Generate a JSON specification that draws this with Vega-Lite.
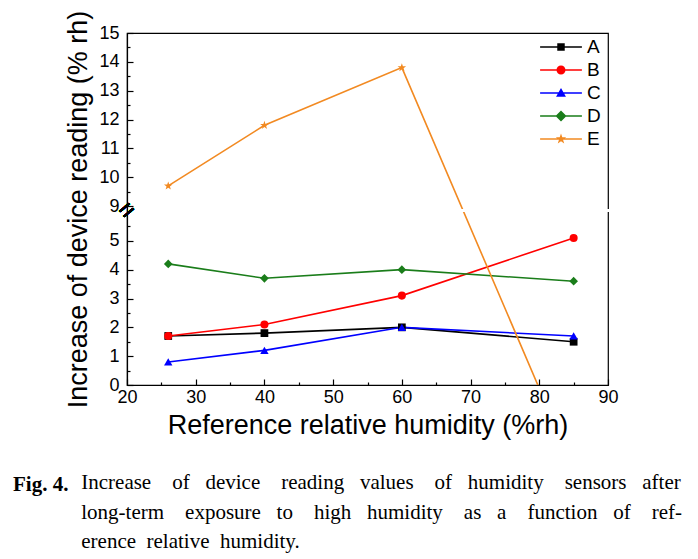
{
  "$schema": "https://vega.github.io/schema/vega-lite/v6.json",
  "autosize": "none",
  "width": 481,
  "height": 352,
  "padding": {"left": 127, "top": 33, "right": 90, "bottom": 174},
  "background": "white",
  "config": {
    "view": {"stroke": "black", "strokeWidth": 1.2},
    "font": "Liberation Sans"
  },
  "title": {
    "text": "Fig. 4.",
    "subtitle": [
      "\u200b\u00a0\u00a0\u00a0\u00a0\u00a0\u00a0\u00a0\u00a0\u00a0\u00a0\u00a0\u00a0\u00a0Increase\u00a0\u00a0\u00a0 of\u00a0\u00a0 device\u00a0\u00a0\u00a0 reading\u00a0\u00a0 values\u00a0\u00a0\u00a0 of\u00a0\u00a0 humidity\u00a0\u00a0\u00a0 sensors\u00a0\u00a0 after",
      "\u200b\u00a0\u00a0\u00a0\u00a0\u00a0\u00a0\u00a0\u00a0\u00a0\u00a0\u00a0\u00a0\u00a0long-term\u00a0\u00a0\u00a0 exposure\u00a0\u00a0 to\u00a0\u00a0\u00a0 high\u00a0\u00a0 humidity\u00a0\u00a0\u00a0 as\u00a0\u00a0 a\u00a0\u00a0\u00a0 function\u00a0\u00a0 of\u00a0\u00a0\u00a0 ref-",
      "\u200b\u00a0\u00a0\u00a0\u00a0\u00a0\u00a0\u00a0\u00a0\u00a0\u00a0\u00a0\u00a0\u00a0erence\u00a0 relative\u00a0 humidity."
    ],
    "orient": "bottom",
    "anchor": "start",
    "frame": "group",
    "dx": -114,
    "offset": 36,
    "font": "Liberation Serif",
    "fontSize": 21,
    "fontWeight": "bold",
    "color": "black",
    "subtitleFont": "Liberation Serif",
    "subtitleFontSize": 21,
    "subtitleColor": "black",
    "subtitleLineHeight": 29.5,
    "subtitlePadding": -23
  },
  "data": {
    "values": [
      {"rh": 26, "v": 1.7, "s": "A"},
      {"rh": 40, "v": 1.8, "s": "A"},
      {"rh": 60, "v": 2.0, "s": "A"},
      {"rh": 85, "v": 1.5, "s": "A"},
      {"rh": 26, "v": 1.7, "s": "B"},
      {"rh": 40, "v": 2.1, "s": "B"},
      {"rh": 60, "v": 3.1, "s": "B"},
      {"rh": 85, "v": 5.1, "s": "B"},
      {"rh": 26, "v": 0.8, "s": "C"},
      {"rh": 40, "v": 1.2, "s": "C"},
      {"rh": 60, "v": 2.0, "s": "C"},
      {"rh": 85, "v": 1.7, "s": "C"},
      {"rh": 26, "v": 4.2, "s": "D"},
      {"rh": 40, "v": 3.7, "s": "D"},
      {"rh": 60, "v": 4.0, "s": "D"},
      {"rh": 85, "v": 3.6, "s": "D"},
      {"rh": 26, "v": 9.7, "s": "E"},
      {"rh": 40, "v": 11.8, "s": "E"},
      {"rh": 60, "v": 13.8, "s": "E"},
      {"rh": 85, "v": -2.9, "s": "E"}
    ]
  },
  "resolve": {"scale": {"color": "independent", "shape": "independent", "size": "independent"}},
  "encoding": {
    "x": {
      "field": "rh", "type": "quantitative",
      "scale": {"domain": [20, 90], "nice": false, "zero": false},
      "axis": {
        "title": "Reference relative humidity (%rh)",
        "titleFont": "Liberation Sans", "titleFontSize": 27, "titleFontWeight": "normal", "titleColor": "black", "titlePadding": 3,
        "values": [20, 25, 30, 35, 40, 45, 50, 55, 60, 65, 70, 75, 80, 85, 90],
        "labelExpr": "datum.value % 10 === 0 ? format(datum.value, 'd') : ''",
        "labelFont": "Liberation Sans", "labelFontSize": 18, "labelColor": "black",
        "labelFlush": false, "labelOverlap": false, "labelPadding": 9,
        "tickSize": {"condition": {"test": "datum.value % 10 === 0", "value": -6}, "value": -3},
        "tickColor": "black", "tickWidth": 1.2,
        "domainColor": "black", "domainWidth": 1.2, "grid": false, "zindex": 1
      }
    },
    "y": {
      "field": "v", "type": "quantitative",
      "scale": {"domain": [0, 6, 8.9, 15], "range": [352, 179, 176, 0], "nice": false, "zero": false},
      "axis": {
        "title": "Increase of device reading (% rh)",
        "titleFont": "Liberation Sans", "titleFontSize": 27, "titleFontWeight": "normal", "titleColor": "black", "titlePadding": 6,
        "values": [0, 0.5, 1, 1.5, 2, 2.5, 3, 3.5, 4, 4.5, 5, 5.5, 9, 9.5, 10, 10.5, 11, 11.5, 12, 12.5, 13, 13.5, 14, 14.5, 15],
        "labelExpr": "datum.value % 1 === 0 ? format(datum.value, 'd') : ''",
        "labelFont": "Liberation Sans", "labelFontSize": 18, "labelColor": "black",
        "labelFlush": false, "labelOverlap": false, "labelPadding": 14,
        "tickSize": {"condition": {"test": "datum.value % 1 === 0", "value": -6}, "value": -3},
        "tickColor": "black", "tickWidth": 1.2,
        "domainColor": "black", "domainWidth": 1.2, "grid": false, "zindex": 1
      }
    },
    "color": {
      "field": "s", "type": "nominal",
      "scale": {"domain": ["A", "B", "C", "D", "E"], "range": ["#000000", "#ff0000", "#0000ff", "#1a7d1a", "#f28a22"]},
      "legend": null
    }
  },
  "layer": [
    {
      "mark": {"type": "line", "strokeWidth": 1.6, "clip": true},
      "encoding": {"detail": {"field": "s"}}
    },
    {
      "mark": {"type": "point", "filled": true, "opacity": 1, "clip": true},
      "encoding": {
        "shape": {"field": "s", "type": "nominal", "scale": {"domain": ["A", "B", "C", "D", "E"], "range": ["square", "circle", "triangle-up", "diamond", "M0,-1L0.235,-0.324L0.951,-0.309L0.38,0.124L0.588,0.809L0,0.4L-0.588,0.809L-0.38,0.124L-0.951,-0.309L-0.235,-0.324Z"]}, "legend": null},
        "size": {"field": "s", "type": "nominal", "scale": {"domain": ["A", "B", "C", "D", "E"], "range": [60, 80, 80, 100, 100]}, "legend": null}
      }
    },
    {
      "transform": [{"filter": "datum.v > 1000"}],
      "mark": {"type": "point", "filled": true, "opacity": 1, "clip": true},
      "encoding": {
        "color": {
          "field": "s", "type": "nominal",
          "scale": {"domain": ["A", "B", "C", "D", "E"], "range": ["#000000", "#ff0000", "#0000ff", "#1a7d1a", "#f28a22"]},
          "legend": {
            "title": null,
            "orient": "none", "legendX": 423, "legendY": 3,
            "labelFont": "Liberation Sans", "labelFontSize": 19, "labelColor": "black", "labelOffset": 15,
            "symbolSize": 484, "symbolStrokeWidth": 0, "rowPadding": 2
          }
        },
        "shape": {
          "field": "s", "type": "nominal",
          "scale": {"domain": ["A", "B", "C", "D", "E"], "range": [
            "M-1.9,-0.066H1.9V0.066H-1.9ZM-0.34,-0.34H0.34V0.34H-0.34Z",
            "M-1.9,-0.066H1.9V0.066H-1.9ZM0.41,0A0.41,0.41,0,1,1,-0.41,0A0.41,0.41,0,1,1,0.41,0Z",
            "M-1.9,-0.066H1.9V0.066H-1.9ZM0,-0.45L0.45,0.33H-0.45Z",
            "M-1.9,-0.066H1.9V0.066H-1.9ZM0,-0.5L0.5,0L0,0.5L-0.5,0Z",
            "M-1.9,-0.066H1.9V0.066H-1.9ZM0,-0.5L0.117,-0.16L0.474,-0.154L0.187,0.06L0.293,0.404L0,0.198L-0.293,0.404L-0.187,0.06L-0.474,-0.154L-0.117,-0.16Z"
          ]},
          "legend": {
            "title": null,
            "orient": "none", "legendX": 423, "legendY": 3,
            "labelFont": "Liberation Sans", "labelFontSize": 19, "labelColor": "black", "labelOffset": 15,
            "symbolSize": 484, "symbolStrokeWidth": 0, "rowPadding": 2
          }
        },
        "size": {"value": 484}
      }
    },
    {
      "mark": {"type": "rect", "fill": "white", "clip": false},
      "encoding": {
        "x": {"datum": 20.2, "type": "quantitative"},
        "x2": {"datum": 91},
        "y": {"datum": 6, "type": "quantitative"},
        "y2": {"datum": 8.9},
        "color": {"value": "white"}
      }
    },
    {
      "mark": {"type": "text", "text": "=", "angle": -40, "fontSize": 26, "font": "Liberation Sans", "clip": false},
      "encoding": {
        "x": {"datum": 20, "type": "quantitative"},
        "y": {"datum": 7.45, "type": "quantitative"},
        "color": {"value": "black"}
      }
    }
  ]
}
